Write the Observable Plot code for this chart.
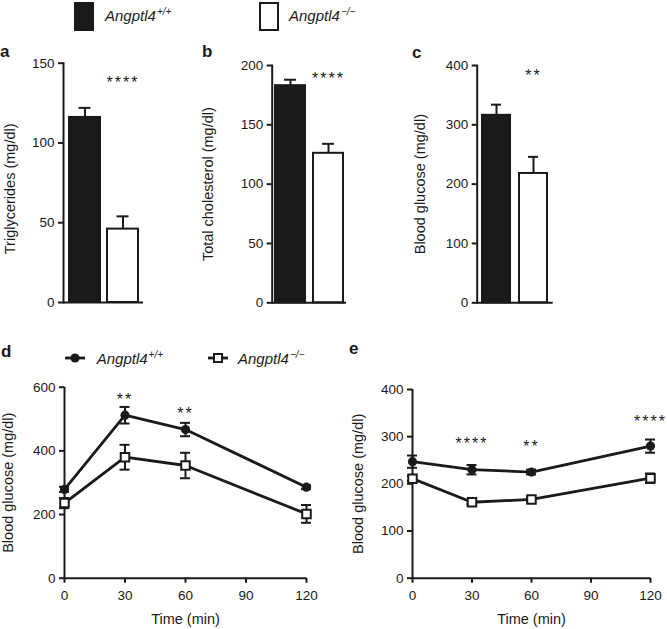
<!DOCTYPE html>
<html><head><meta charset="utf-8">
<script src="https://cdn.jsdelivr.net/npm/d3@7"></script>
<script src="https://cdn.jsdelivr.net/npm/@observablehq/plot@0.6"></script>
<style>
body{margin:0;background:#fff;}
#root{position:relative;width:667px;height:629px;font-family:"Liberation Sans",Arial,sans-serif;color:#1a1a1a;overflow:hidden;background:#fff}
.panel{position:absolute}
.letter{position:absolute;font-weight:bold;font-size:17px;line-height:17px}
.leg{position:absolute;font-style:italic;font-size:15px;line-height:15px;white-space:nowrap}
.leg sup{font-size:10px;vertical-align:0;position:relative;top:-6px;margin-left:1px}
.swatch{position:absolute;box-sizing:border-box;border:2px solid #1a1a1a}
g[aria-description="stars"] text{letter-spacing:2px}
</style></head>
<body><div id="root"></div>
<script>
// ---- data ----
const groups = ["Angptl4+/+", "Angptl4−/−"];
const triglycerides = [116, 46];
const triglyceridesSem = [6, 8];
const cholesterol = [183, 126];
const cholesterolSem = [5, 8];
const fastingGlucose = [316, 218];
const fastingGlucoseSem = [18, 28];
const barStars = ["****", "****", "**"];
const barStarY = [140, 192, 389];

const times = [0, 30, 60, 120];
const gttWt = [279, 512, 467, 286];
const gttWtSem = [8, 26, 21, 6];
const gttKo = [236, 380, 354, 202];
const gttKoSem = [16, 39, 40, 28];
const gttStarTimes = [30, 60];
const gttStarLabels = ["**", "**"];
const gttStarY = [574, 530];

const ittWt = [247, 230, 225, 280];
const ittWtSem = [13, 10, 5, 14];
const ittKo = [211, 161, 167, 212];
const ittKoSem = [5, 4, 4, 10];
const ittStarTimes = [30, 60, 120];
const ittStarLabels = ["****", "**", "****"];
const ittStarY = [293, 286, 339];

const timeTicks = [0, 30, 60, 90, 120];

// ---- layout helpers ----
const INK = "#1a1a1a";
const FS = 13.5;
const root = document.getElementById("root");
const baseStyle = {fontFamily: "Liberation Sans, Arial, sans-serif", fontSize: FS + "px", color: INK, background: "transparent", overflow: "visible"};

function place(node, left, top) {
  const d = document.createElement("div");
  d.className = "panel";
  d.style.left = left + "px";
  d.style.top = top + "px";
  d.appendChild(node);
  root.appendChild(d);
}
function letter(t, x, baseline) {
  const d = document.createElement("div");
  d.className = "letter";
  d.textContent = t;
  d.style.left = x + "px";
  d.style.top = (baseline - 14.4) + "px";
  root.appendChild(d);
}
function legText(x, baseline, sup) {
  const d = document.createElement("div");
  d.className = "leg";
  d.innerHTML = "Angptl4<sup>" + sup + "</sup>";
  d.style.left = x + "px";
  d.style.top = (baseline - 12.7) + "px";
  root.appendChild(d);
}

function barPanel(o) {
  const data = groups.map((g, i) => ({g, v: o.values[i], e: o.sems[i]}));
  const chart = Plot.plot({
    width: o.w, height: o.h,
    marginLeft: o.ml, marginRight: o.mr, marginTop: o.mt, marginBottom: o.mb,
    style: baseStyle,
    x: {domain: groups, paddingInner: o.pi, paddingOuter: o.po, axis: null},
    y: {domain: o.domain, axis: null},
    color: {domain: groups, range: [INK, "#ffffff"]},
    marks: [
      Plot.ruleX(data, {x: "g", y1: d => d.v - d.e, y2: d => d.v + d.e, stroke: INK, strokeWidth: 2}),
      Plot.tickY(data, {x: "g", y: d => d.v + d.e, stroke: INK, strokeWidth: 2, insetLeft: o.cap, insetRight: o.cap}),
      Plot.barY(data, {x: "g", y: "v", fill: "g", stroke: INK, strokeWidth: 2, insetLeft: 1, insetRight: 1}),
      Plot.ruleY([0], {stroke: INK, strokeWidth: 2}),
      Plot.frame({anchor: "left", stroke: INK, strokeWidth: 2}),
      Plot.axisY({ticks: o.ticks, tickSize: 5, tickPadding: 4, strokeWidth: 2, label: null, fontSize: FS}),
      Plot.text([o.title], {text: d => d, frameAnchor: "left", textAnchor: "middle", rotate: -90, dx: o.tdx, dy: o.tdy, fontSize: 14.5}),
      Plot.text([{g: groups[1], y: o.starY, s: o.star}], {x: "g", y: "y", text: "s", fontSize: 16, dy: 4, ariaDescription: "stars"})
    ]
  });
  place(chart, o.left, o.top);
}

function linePanel(o) {
  const wt = times.map((t, i) => ({t, v: o.wt[i], e: o.wtSem[i]}));
  const ko = times.map((t, i) => ({t, v: o.ko[i], e: o.koSem[i]}));
  const stars = o.starTimes.map((t, i) => ({t, y: o.starY[i], s: o.starLabels[i]}));
  const errMarks = (data) => [
    Plot.ruleX(data, {x: "t", y1: d => d.v - d.e, y2: d => d.v + d.e, stroke: INK, strokeWidth: 2}),
    Plot.ruleY(data, {y: d => d.v + d.e, x1: "t", x2: "t", insetLeft: -5, insetRight: -5, stroke: INK, strokeWidth: 2}),
    Plot.ruleY(data, {y: d => d.v - d.e, x1: "t", x2: "t", insetLeft: -5, insetRight: -5, stroke: INK, strokeWidth: 2})
  ];
  const chart = Plot.plot({
    width: o.w, height: o.h,
    marginLeft: o.ml, marginRight: o.mr, marginTop: o.mt, marginBottom: o.mb,
    style: baseStyle,
    x: {domain: [0, 120], axis: null},
    y: {domain: o.domain, axis: null},
    marks: [
      Plot.ruleY([0], {stroke: INK, strokeWidth: 2}),
      Plot.ruleX([0], {stroke: INK, strokeWidth: 2}),
      Plot.axisY({ticks: o.ticks, tickSize: 5, tickPadding: 4, strokeWidth: 2, label: null, fontSize: FS}),
      Plot.axisX({ticks: timeTicks, tickSize: 5, tickPadding: 7, strokeWidth: 2, label: null, fontSize: FS}),
      ...errMarks(ko),
      Plot.line(ko, {x: "t", y: "v", stroke: INK, strokeWidth: 2.8}),
      Plot.dot(ko, {x: "t", y: "v", symbol: "square", r: 4.8, fill: "#ffffff", stroke: INK, strokeWidth: 2}),
      ...errMarks(wt),
      Plot.line(wt, {x: "t", y: "v", stroke: INK, strokeWidth: 2.8}),
      Plot.dot(wt, {x: "t", y: "v", r: 4.6, fill: INK}),
      Plot.text([o.title], {text: d => d, frameAnchor: "left", textAnchor: "middle", rotate: -90, dx: o.tdx, dy: 0, fontSize: 14.5}),
      Plot.text(["Time (min)"], {text: d => d, frameAnchor: "bottom", dy: 46, fontSize: 14.5}),
      Plot.text(stars, {x: "t", y: "y", text: "s", fontSize: 16, dy: 4, ariaDescription: "stars"})
    ]
  });
  place(chart, o.left, o.top);
}

// ---- top legend ----
function swatch(x, fill) {
  const d = document.createElement("div");
  d.className = "swatch";
  d.style.left = x + "px"; d.style.top = "2px";
  d.style.width = "20px"; d.style.height = "29px";
  d.style.background = fill;
  root.appendChild(d);
}
swatch(74, INK);
legText(105, 21, "+/+");
swatch(259, "#ffffff");
legText(289, 21, "−/−");

// ---- panels a–c ----
barPanel({values: triglycerides, sems: triglyceridesSem, domain: [0, 150], ticks: [0, 50, 100, 150],
  title: "Triglycerides (mg/dl)", star: barStars[0], starY: barStarY[0],
  left: 0, top: 40, w: 200, h: 280, ml: 63, mr: 57, mt: 22.7, mb: 18, pi: 0.143, po: 0.11, cap: 10.5, tdx: -53, tdy: 6});
barPanel({values: cholesterol, sems: cholesterolSem, domain: [0, 200], ticks: [0, 50, 100, 150, 200],
  title: "Total cholesterol (mg/dl)", star: barStars[1], starY: barStarY[1],
  left: 200, top: 40, w: 170, h: 280, ml: 71.7, mr: 24, mt: 25, mb: 17.7, pi: 0.158, po: 0.056, cap: 10, tdx: -63.7, tdy: 0});
barPanel({values: fastingGlucose, sems: fastingGlucoseSem, domain: [0, 400], ticks: [0, 100, 200, 300, 400],
  title: "Blood glucose (mg/dl)", star: barStars[2], starY: barStarY[2],
  left: 410, top: 40, w: 180, h: 280, ml: 66.7, mr: 37.3, mt: 25, mb: 17.7, pi: 0.176, po: 0.088, cap: 10, tdx: -57, tdy: 0});

// ---- panels d, e ----
linePanel({wt: gttWt, wtSem: gttWtSem, ko: gttKo, koSem: gttKoSem,
  starTimes: gttStarTimes, starLabels: gttStarLabels, starY: gttStarY,
  domain: [0, 600], ticks: [0, 200, 400, 600], title: "Blood glucose (mg/dl)",
  left: 0, top: 330, w: 330, h: 299, ml: 64, mr: 24, mt: 56.7, mb: 51.3, tdx: -56});
linePanel({wt: ittWt, wtSem: ittWtSem, ko: ittKo, koSem: ittKoSem,
  starTimes: ittStarTimes, starLabels: ittStarLabels, starY: ittStarY,
  domain: [0, 400], ticks: [0, 100, 200, 300, 400], title: "Blood glucose (mg/dl)",
  left: 330, top: 330, w: 337, h: 299, ml: 82, mr: 17, mt: 59, mb: 51.3, tdx: -54});

// ---- panel d legend ----
function lineKey(cx, cy, square) {
  const ns = "http://www.w3.org/2000/svg";
  const s = document.createElementNS(ns, "svg");
  s.setAttribute("width", 24); s.setAttribute("height", 14);
  s.style.position = "absolute";
  s.style.left = (cx - 12) + "px"; s.style.top = (cy - 7) + "px";
  const l = document.createElementNS(ns, "line");
  l.setAttribute("x1", 2); l.setAttribute("x2", 22); l.setAttribute("y1", 7); l.setAttribute("y2", 7);
  l.setAttribute("stroke", INK); l.setAttribute("stroke-width", 2.8);
  s.appendChild(l);
  if (square) {
    const r = document.createElementNS(ns, "rect");
    r.setAttribute("x", 8); r.setAttribute("y", 3); r.setAttribute("width", 8); r.setAttribute("height", 8);
    r.setAttribute("fill", "#fff"); r.setAttribute("stroke", INK); r.setAttribute("stroke-width", 2);
    s.appendChild(r);
  } else {
    const c = document.createElementNS(ns, "circle");
    c.setAttribute("cx", 12); c.setAttribute("cy", 7); c.setAttribute("r", 4.6); c.setAttribute("fill", INK);
    s.appendChild(c);
  }
  root.appendChild(s);
}
lineKey(75, 358.3, false);
legText(96.7, 363.5, "+/+");
lineKey(218, 358.3, true);
legText(238, 363.5, "−/−");

// ---- panel letters ----
letter("a", 0, 57);
letter("b", 202, 57);
letter("c", 412, 58);
letter("d", 1, 357);
letter("e", 349, 354);
</script></body></html>
